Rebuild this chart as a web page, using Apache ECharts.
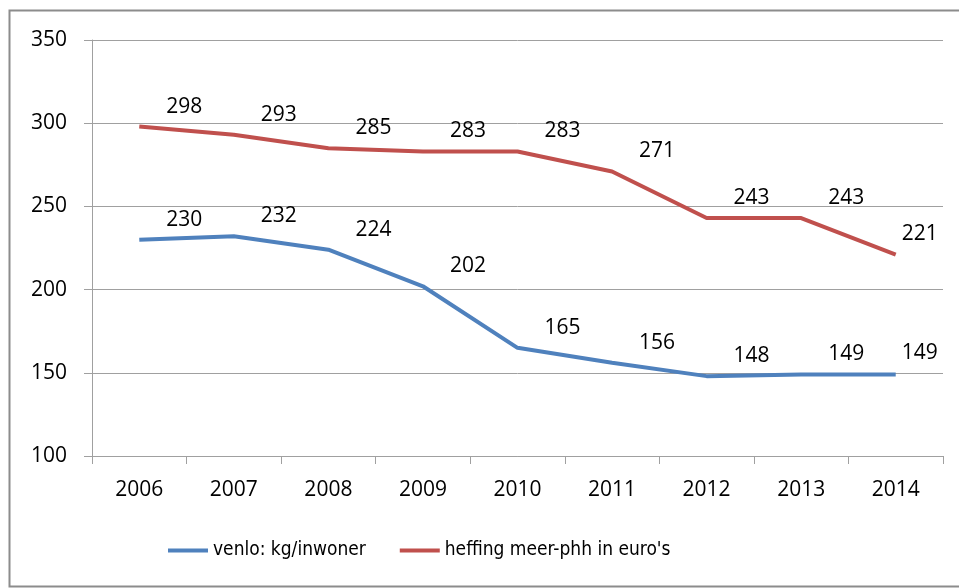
<!DOCTYPE html>
<html><head><meta charset="utf-8">
<script src="https://cdn.jsdelivr.net/npm/echarts@6/dist/echarts.min.js"></script>
<style>html,body{margin:0;padding:0;background:#fff}#c{width:959px;height:588px}</style>
</head><body><div id="c"></div>
<script>
const years = ['2006','2007','2008','2009','2010','2011','2012','2013','2014'];
const venlo = [230,232,224,202,165,156,148,149,149];
const heffing = [298,293,285,283,283,271,243,243,221];
const yTicks = [100,150,200,250,300,350];
const seriesNames = ['venlo: kg/inwoner', "heffing meer-phh in euro's"];

const numFont = '"Open Sans","Liberation Sans",sans-serif';
const legFont = '"Liberation Sans Narrow","DejaVu Sans Condensed",sans-serif';
function withLabels(vals){
  return vals.map((v,i)=>({value:v, label:{offset: i===vals.length-1 ? [24,-21] : [45,-20]}}));
}
const chart = echarts.init(document.getElementById('c'), null, {renderer:'canvas'});
chart.setOption({
  animation:false,
  backgroundColor:'#fff',
  graphic:[{type:'rect',shape:{x:9.5,y:10.5,width:960,height:576},style:{fill:'none',stroke:'#8c8c8c',lineWidth:2},silent:true}],
  grid:{left:92,right:16,top:40,bottom:132,containLabel:false},
  legend:{top:536,left:163,itemWidth:40,itemHeight:4,itemGap:34,icon:'rect',
    textStyle:{fontFamily:legFont,fontSize:19,color:'#000'},data:seriesNames},
  xAxis:{type:'category',data:years,boundaryGap:true,
    axisLine:{lineStyle:{color:'#a0a0a0',width:1}},
    axisTick:{show:true,length:8,interval:0,lineStyle:{color:'#a0a0a0'}},
    axisLabel:{fontFamily:numFont,fontSize:21,color:'#000',margin:24}},
  yAxis:{type:'value',min:yTicks[0],max:yTicks[yTicks.length-1],interval:50,
    axisLine:{show:true,lineStyle:{color:'#a0a0a0'}},
    axisTick:{show:true,length:8,lineStyle:{color:'#a0a0a0'}},
    splitLine:{lineStyle:{color:'#a0a0a0'}},
    axisLabel:{fontFamily:numFont,fontSize:21,color:'#000',margin:25}},
  series:[
    {name:seriesNames[0],type:'line',data:withLabels(venlo),symbol:'circle',symbolSize:0,showSymbol:true,
     lineStyle:{width:4,color:'#4F81BD'},itemStyle:{color:'#4F81BD'},
     label:{show:true,position:'inside',fontFamily:numFont,fontSize:21,color:'#000'}},
    {name:seriesNames[1],type:'line',data:withLabels(heffing),symbol:'circle',symbolSize:0,showSymbol:true,
     lineStyle:{width:4,color:'#C0504D'},itemStyle:{color:'#C0504D'},
     label:{show:true,position:'inside',fontFamily:numFont,fontSize:21,color:'#000'}}
  ]
});
</script></body></html>
